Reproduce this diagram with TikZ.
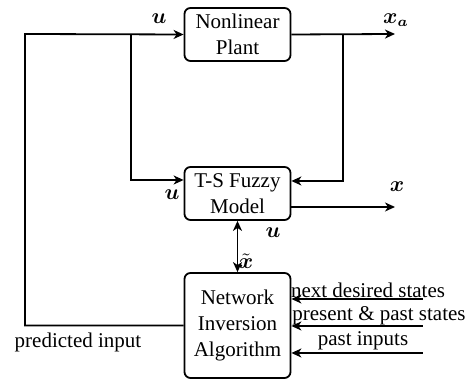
\documentclass[tikz,border=0pt]{standalone}
\usepackage{amsmath}
\usepackage{fontspec}
\setmainfont{Liberation Serif}
\usetikzlibrary{arrows.meta}

\begin{document}
\begin{tikzpicture}[x=0.5pt, y=-0.5pt, line width=0.9pt, font=\fontsize{10.5}{13}\selectfont,
    blk/.style={draw, rounded corners=3pt, align=center, minimum width=53pt, inner sep=0pt},
    arr/.style={-{Stealth[length=5pt, width=4.5pt, inset=1.5pt]}}]

    \useasboundingbox (0, 0) rectangle (473, 383);

    % blocks
    \node[blk, minimum height=26.5pt] (plant) at (237.5, 34.5) {Nonlinear\\Plant};
    \node[blk, minimum height=26.5pt] (fuzzy) at (237.5, 193.5) {T-S Fuzzy\\Model};
    \node[blk, minimum height=52.5pt] (nia) at (237.5, 325.5) {Network\\Inversion\\Algorithm};

    % free ends and corners
    \coordinate (xa) at (395, 34);
    \coordinate (xo) at (395, 207);
    \coordinate (tl) at (25, 34);
    \coordinate (bu) at (131, 34);
    \coordinate (fu) at (131, 180);
    \coordinate (bx) at (343, 34);
    \coordinate (fx) at (343, 181);
    \coordinate (in1) at (423, 299);
    \coordinate (in2) at (423, 326);
    \coordinate (in3) at (423, 353);

    % plant loop
    \draw[arr] (nia.west) -| (tl) -- (plant.west);
    \draw[arr] (bu) -- (fu) -- (fuzzy.west |- fu);
    \draw[arr] (plant.east) -- (xa);
    \draw[arr] (bx) -- (fx) -- (fuzzy.east |- fx);
    \draw[arr] (fuzzy.east |- xo) -- (xo);
    \draw[{Stealth[length=5pt, width=4.5pt, inset=1.5pt]}-{Stealth[length=5pt, width=4.5pt, inset=1.5pt]}] (fuzzy.south) -- (nia.north);

    % inputs to the inversion
    \draw[arr] (in1) -- (nia.east |- in1);
    \draw[arr] (in2) -- (nia.east |- in2);
    \draw[arr] (in3) -- (nia.east |- in3);

    % labels
    \node (lu1) at (159, 19) {$\boldsymbol{u}$};
    \node (lu2) at (172, 195) {$\boldsymbol{u}$};
    \node (lu3) at (273, 233) {$\boldsymbol{u}$};
    \node (lxa) at (396, 20) {$\boldsymbol{x_a}$};
    \node (lx) at (397, 187) {$\boldsymbol{x}$};
    \node (lxt) at (246, 261) {$\tilde{\boldsymbol{x}}$};
    \node (lns) at (368, 290) {next desired states};
    \node (lps) at (379, 316) {present \& past states};
    \node (lpi) at (363, 341) {past inputs};
    \node (lpr) at (78, 342) {predicted input};

\end{tikzpicture}
\end{document}
